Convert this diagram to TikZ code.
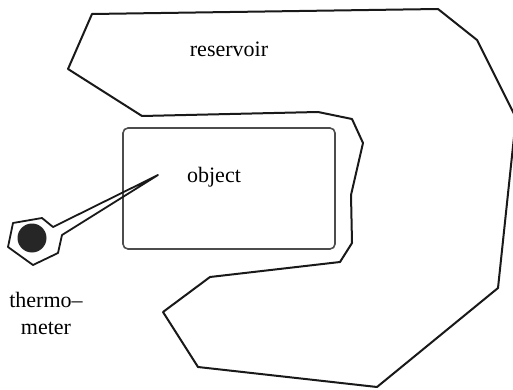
\documentclass[tikz,border=0pt]{standalone}
\usepackage{fontspec}
\setmainfont{Liberation Serif}
\begin{document}
\begin{tikzpicture}[x=1pt,y=-1pt,
  outline/.style={line width=2pt,line join=round,black!90},
  objbox/.style={line width=1.6pt,draw=black!70,rounded corners=5pt},
  lbl/.style={font=\fontsize{22}{27}\selectfont,inner sep=0pt}]
\useasboundingbox (0,0) rectangle (513,390);
\clip (0,0) rectangle (513,390);
% reservoir
\draw[outline] (92,14) -- (438,9) -- (477,40) -- (516,118) -- (498,288)
  -- (377,387) -- (198,367) -- (163,312) -- (210,277) -- (340,262)
  -- (352,243) -- (351,195) -- (363,143) -- (352,119) -- (318,112)
  -- (142,116) -- (68,69) -- cycle;
% object
\draw[objbox] (123,128) rectangle (335,249);
\node[lbl] (res) at (229,49) {reservoir};
\node[lbl] (obj) at (214,177) {object};
% thermometer
\draw[outline,line width=1.8pt] (158,175) -- (53,227) -- (42,218) -- (13,223) -- (8,247)
  -- (33,265) -- (58,253) -- (62,235) -- cycle;
\fill[black!85] (32,238) circle (14.5);
\node[lbl,align=center] (th) at (46,313) {thermo--\\meter};
\end{tikzpicture}
\end{document}
